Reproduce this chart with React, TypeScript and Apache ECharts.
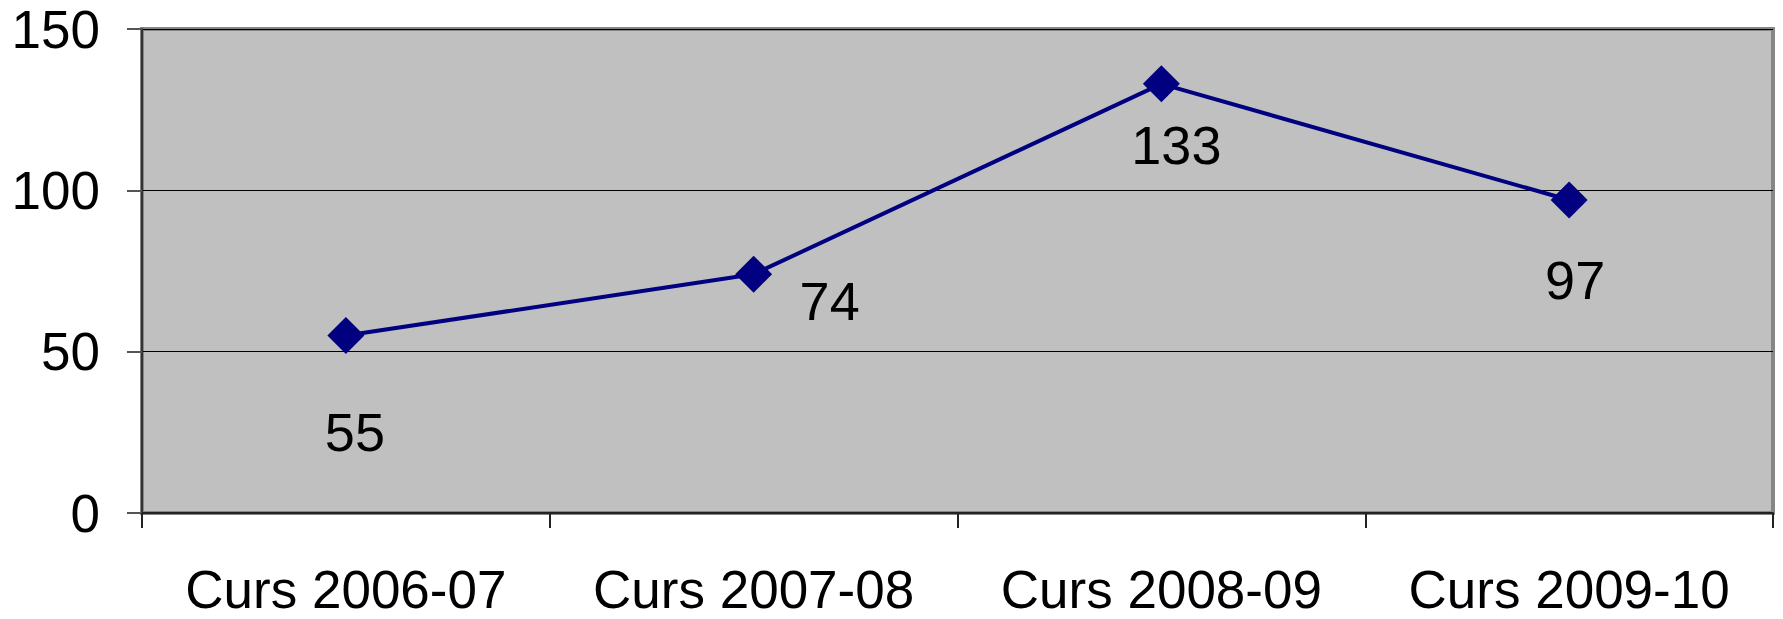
import React, { useEffect, useRef } from "react";
import * as echarts from "echarts";

const categories = ["Curs 2006-07", "Curs 2007-08", "Curs 2008-09", "Curs 2009-10"];
const values = [55, 74, 133, 97];
const labelOffsets: [number, number][] = [
  [9, 96],
  [76, 27],
  [15, 61],
  [6, 80],
];
const yTicks = { min: 0, max: 150, interval: 50 };

const FONT = "'Liberation Sans', Arial, sans-serif";

export default function App() {
  const ref = useRef<HTMLDivElement>(null);
  useEffect(() => {
    if (!ref.current) return;
    const chart = echarts.init(ref.current, undefined, { renderer: "svg" });
    chart.setOption({
      animation: false,
      backgroundColor: "#ffffff",
      grid: {
        left: 142,
        right: 10,
        top: 29,
        bottom: 106,
        show: true,
        backgroundColor: "#c0c0c0",
        borderColor: "#868686",
        borderWidth: 4,
      },
      xAxis: {
        type: "category",
        data: categories,
        boundaryGap: true,
        axisLine: { show: true, lineStyle: { color: "#222", width: 2 } },
        axisTick: { show: true, length: 15, interval: 0, lineStyle: { color: "#222", width: 2 } },
        axisLabel: {
          interval: 0,
          hideOverlap: false,
          color: "#000",
          fontSize: 53,
          lineHeight: 44,
          fontFamily: FONT,
          margin: 54,
        },
        splitLine: { show: false },
      },
      yAxis: {
        type: "value",
        min: yTicks.min,
        max: yTicks.max,
        interval: yTicks.interval,
        axisLine: { show: true, lineStyle: { color: "#333", width: 2 } },
        axisTick: { show: true, length: 15, lineStyle: { color: "#555", width: 2 } },
        axisLabel: {
          color: "#000",
          fontSize: 53,
          fontFamily: FONT,
          margin: 42,
        },
        splitLine: { show: true, lineStyle: { color: "#000", width: 1 } },
      },
      series: [
        {
          type: "line",
          data: values.map((v, i) => ({
            value: v,
            label: { offset: labelOffsets[i] },
          })),
          symbol: "diamond",
          symbolSize: 37,
          itemStyle: { color: "#000080" },
          lineStyle: { color: "#000080", width: 4 },
          label: {
            show: true,
            position: "inside",
            color: "#000",
            fontSize: 54,
            fontFamily: FONT,
            align: "center",
            verticalAlign: "middle",
          },
        },
      ],
    });
    return () => chart.dispose();
  }, []);
  return (
    <div
      ref={ref}
      style={{ position: "fixed", left: 0, top: 0, width: 1783, height: 619 }}
    />
  );
}
